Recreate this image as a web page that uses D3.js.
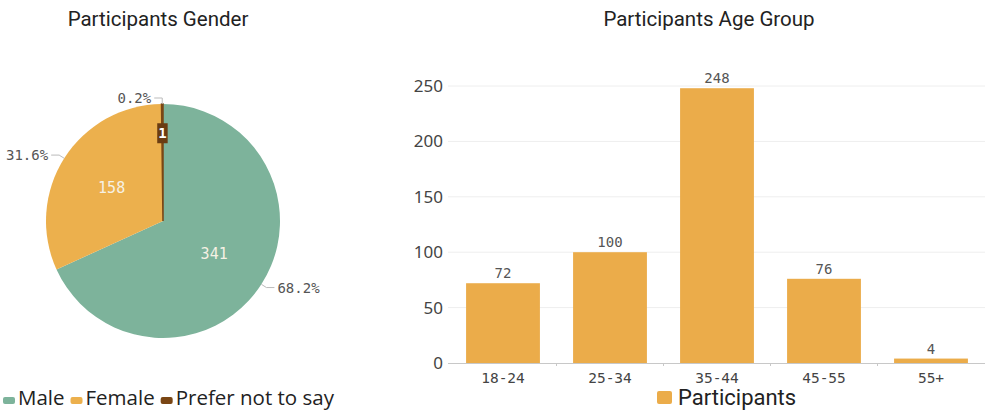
<!DOCTYPE html>
<html><head><meta charset="utf-8">
<script src="https://cdn.jsdelivr.net/npm/d3@7"></script>
<style>
html,body{margin:0;padding:0;background:#fff;}
svg{display:block;}
</style></head>
<body>
<svg id="c" width="985" height="411"></svg>
<script>
// ---- data ----
const genderCategories = ["Male", "Female", "Prefer not to say"];
const genderValues = [341, 158, 1];
const genderPercents = ["68.2%", "31.6%", "0.2%"];
const genderColors = ["#7db39b", "#ecb04d", "#7a4614"];

const ageCategories = ["18-24", "25-34", "35-44", "45-55", "55+"];
const ageValues = [72, 100, 248, 76, 4];
const ageTicks = [0, 50, 100, 150, 200, 250];
const ageSeriesName = "Participants";
const barColor = "#ebac4a";

const svg = d3.select("#c");
const mono = "'DejaVu Sans Mono', monospace";

// ---- titles ----
svg.append("text").attr("x", 158).attr("y", 26).attr("text-anchor", "middle")
  .style("font-family", "Roboto").style("font-size", "20.5px").attr("fill", "#222")
  .text("Participants Gender");
svg.append("text").attr("x", 709).attr("y", 26).attr("text-anchor", "middle")
  .style("font-family", "Roboto").style("font-size", "20.5px").attr("fill", "#222")
  .text("Participants Age Group");

// ---- pie ----
const cx = 163, cy = 221, R = 117;
const pie = d3.pie().sort(null).value(d => d.v);
const pdata = pie(genderValues.map((v, i) => ({v, i})));
const arc = d3.arc().innerRadius(0).outerRadius(R);
const g = svg.append("g").attr("transform", `translate(${cx},${cy})`);
g.selectAll("path.slice").data(pdata).enter().append("path")
  .attr("class", "slice").attr("d", arc)
  .attr("fill", d => genderColors[d.data.i])
  .attr("stroke", d => d.data.i === 2 ? genderColors[2] : "none")
  .attr("stroke-width", 1.5);

const mid = d => (d.startAngle + d.endAngle) / 2;
const pt = (a, r) => [Math.sin(a) * r, -Math.cos(a) * r];

// inside value labels
pdata.forEach(d => {
  const i = d.data.i;
  if (i === 2) {
    const [x, y] = pt(mid(d), R * 0.75);
    const t = g.append("text").attr("x", x).attr("y", y + 5).attr("text-anchor", "middle")
      .style("font-family", mono).style("font-size", "14px").style("font-weight", "bold")
      .attr("fill", "#fff").text(genderValues[i]);
    const bb = t.node().getBBox();
    g.insert("rect", () => t.node()).attr("x", bb.x - 1).attr("y", y - 10)
      .attr("width", bb.width + 2).attr("height", 20).attr("fill", "#6a3c12");
  } else {
    const [x, y] = pt(mid(d), R * 0.52);
    g.append("text").attr("x", x).attr("y", y + 5).attr("text-anchor", "middle")
      .style("font-family", mono).style("font-size", "15px")
      .attr("fill", "#f6f1e4").text(genderValues[i]);
  }
});

// outside percent labels with leaders
pdata.forEach(d => {
  const a = mid(d);
  const p1 = pt(a, R);
  const p2 = pt(a, R + 6);
  const side = Math.sin(a) >= 0 ? 1 : -1;
  const p3 = [p2[0] + side * 8, p2[1]];
  g.append("polyline").attr("points", [p1, p2, p3].map(p => p.join(",")).join(" "))
    .attr("fill", "none").attr("stroke", "#bbb").attr("stroke-width", 1);
  g.append("text").attr("x", p3[0] + side * 3).attr("y", p3[1] + 5)
    .attr("text-anchor", side > 0 ? "start" : "end")
    .style("font-family", mono).style("font-size", "14px").attr("fill", "#555")
    .text(genderPercents[d.data.i]);
});

// pie legend
let lx = 3;
const lg = svg.append("g");
genderCategories.forEach((c, i) => {
  lg.append("rect").attr("x", lx).attr("y", 397).attr("width", 12).attr("height", 7)
    .attr("rx", 2).attr("fill", genderColors[i]);
  const t = lg.append("text").attr("x", lx + 15).attr("y", 405)
    .style("font-family", "'Open Sans'").style("font-size", "20.5px").attr("fill", "#222").text(c);
  lx += 15 + t.node().getComputedTextLength() + 6;
});

// ---- bar chart ----
const x = d3.scaleBand().domain(ageCategories).range([449.5, 984.5]).paddingInner(0.31).paddingOuter(0.155);
const y = d3.scaleLinear().domain([0, 250]).range([363, 86]);

// gridlines
svg.append("g").selectAll("line").data(ageTicks.filter(t => t > 0)).enter().append("line")
  .attr("x1", 448).attr("x2", 985).attr("y1", d => y(d)).attr("y2", d => y(d))
  .attr("stroke", "#eeeeee").attr("stroke-width", 1);

// y axis labels
const ya = svg.append("g").attr("transform", "translate(448,0)")
  .call(d3.axisLeft(y).tickValues(ageTicks).tickSize(0).tickPadding(5));
ya.select(".domain").remove();
ya.selectAll("text").style("font-family", "'Noto Sans'").style("font-size", "17px").attr("fill", "#444");

// bars
svg.append("g").selectAll("rect").data(ageValues).enter().append("rect")
  .attr("x", (d, i) => x(ageCategories[i])).attr("width", x.bandwidth())
  .attr("y", d => y(d)).attr("height", d => y(0) - y(d)).attr("fill", barColor);

// value labels
svg.append("g").selectAll("text").data(ageValues).enter().append("text")
  .attr("x", (d, i) => x(ageCategories[i]) + x.bandwidth() / 2).attr("y", d => y(d) - 5)
  .attr("text-anchor", "middle").style("font-family", mono).style("font-size", "14px")
  .attr("fill", "#555").text(d => d);

// x axis
const xa = svg.append("g").attr("transform", `translate(0,${y(0)})`)
  .call(d3.axisBottom(x).tickSize(0).tickPadding(10));
xa.select(".domain").attr("d", "M448,0.5H985").attr("stroke", "#c8c8c8");
xa.selectAll("text").style("font-family", mono).style("font-size", "14.5px").attr("fill", "#444");
// small ticks at band boundaries
svg.append("g").selectAll("line").data(ageCategories.slice(1)).enter().append("line")
  .attr("x1", d => x(d) - x.step() * x.paddingInner() / 2).attr("x2", d => x(d) - x.step() * x.paddingInner() / 2)
  .attr("y1", y(0)).attr("y2", y(0) + 3).attr("stroke", "#c8c8c8");

// bar legend
svg.append("rect").attr("x", 657).attr("y", 391).attr("width", 15).attr("height", 13).attr("rx", 2).attr("fill", barColor);
svg.append("text").attr("x", 678).attr("y", 405).style("font-family", "Roboto").style("font-size", "22px")
  .attr("fill", "#222").text(ageSeriesName);
</script>
</body></html>
